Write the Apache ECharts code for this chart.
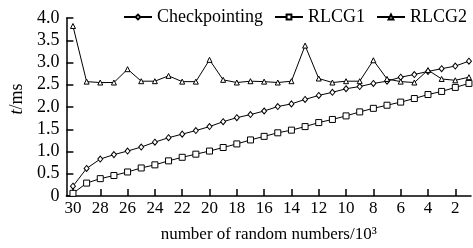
<!DOCTYPE html>
<html>
<head>
<meta charset="utf-8">
<script src="https://cdn.jsdelivr.net/npm/echarts@6/dist/echarts.min.js"></script>
<style>
  html, body { margin: 0; padding: 0; background: #fff; }
  #chart { width: 473px; height: 248px; }
</style>
</head>
<body>
<div id="chart"></div>
<script>
const xValues = [30, 29, 28, 27, 26, 25, 24, 23, 22, 21, 20, 19, 18, 17, 16, 15, 14, 13, 12, 11, 10, 9, 8, 7, 6, 5, 4, 3, 2, 1];
const xTickLabels = [30, 28, 26, 24, 22, 20, 18, 16, 14, 12, 10, 8, 6, 4, 2];

const checkpointing = [0.22, 0.62, 0.83, 0.93, 1.01, 1.10, 1.21, 1.31, 1.39, 1.47, 1.56, 1.67, 1.76, 1.83, 1.91,
  2.01, 2.07, 2.17, 2.26, 2.33, 2.41, 2.46, 2.53, 2.58, 2.67, 2.73, 2.80, 2.86, 2.92, 3.03];
const rlcg1 = [0.06, 0.29, 0.39, 0.46, 0.54, 0.63, 0.70, 0.79, 0.87, 0.94, 1.01, 1.09, 1.17, 1.26, 1.34,
  1.42, 1.48, 1.56, 1.65, 1.72, 1.80, 1.89, 1.97, 2.04, 2.11, 2.19, 2.28, 2.35, 2.44, 2.53];
const rlcg2 = [3.82, 2.57, 2.55, 2.55, 2.85, 2.58, 2.58, 2.70, 2.57, 2.57, 3.06, 2.61, 2.55,
  2.58, 2.57, 2.55, 2.58, 3.38, 2.64, 2.55, 2.58, 2.58, 3.05, 2.63, 2.57, 2.55, 2.83, 2.63, 2.60, 2.67];

const FONT = '"Liberation Serif", "Times New Roman", serif';

const chart = echarts.init(document.getElementById('chart'));

const mkSeries = (name, values, symbol, size) => ({
  name,
  type: 'line',
  data: xValues.map((x, i) => [x, values[i]]),
  symbol,
  symbolSize: size,
  showAllSymbol: true,
  lineStyle: { color: '#000', width: 1 },
  itemStyle: { color: '#fff', borderColor: '#000', borderWidth: 1 },
  z: 3
});

chart.setOption({
  animation: false,
  textStyle: { fontFamily: FONT },
  legend: {
    left: 118,
    top: 3,
    width: 355,
    itemWidth: 28,
    itemHeight: 6,
    itemGap: 11,
    textStyle: { fontFamily: FONT, fontSize: 18, color: '#000' },
    data: ['Checkpointing', 'RLCG1', 'RLCG2']
  },
  grid: { left: 60, right: 2, top: 18, bottom: 48 },
  xAxis: {
    type: 'value',
    inverse: true,
    min: 0.85,
    max: 30.48,
    name: 'number of random numbers/10³',
    nameLocation: 'middle',
    nameGap: 30,
    nameTextStyle: { fontFamily: FONT, fontSize: 17, color: '#000' },
    axisLine: { lineStyle: { color: '#000', width: 1.5 } },
    axisTick: { inside: true, length: 7, lineStyle: { width: 1.5, color: '#000' }, customValues: xTickLabels },
    axisLabel: { fontFamily: FONT, fontSize: 17, color: '#000', margin: 4, customValues: xTickLabels },
    splitLine: { show: false }
  },
  yAxis: {
    type: 'value',
    min: 0,
    max: 4,
    interval: 0.5,
    name: '{i|t}/ms',
    nameLocation: 'middle',
    nameRotate: 90,
    nameGap: 40,
    nameTextStyle: {
      fontFamily: FONT, fontSize: 18, color: '#000', padding: [0, 0, 0, 16],
      rich: { i: { fontFamily: FONT, fontSize: 18, fontStyle: 'italic', color: '#000' } }
    },
    axisLine: { show: true, lineStyle: { color: '#000', width: 1.5 } },
    axisTick: { inside: true, length: 7, lineStyle: { width: 1.5, color: '#000' } },
    axisLabel: {
      fontFamily: FONT, fontSize: 18, color: '#000', margin: 7,
      formatter: v => (v === 0 ? '0' : v.toFixed(1))
    },
    splitLine: { show: false }
  },
  series: [
    mkSeries('Checkpointing', checkpointing, 'diamond', [5, 6]),
    mkSeries('RLCG1', rlcg1, 'rect', 6),
    mkSeries('RLCG2', rlcg2, 'triangle', 5)
  ]
});
</script>
</body>
</html>
